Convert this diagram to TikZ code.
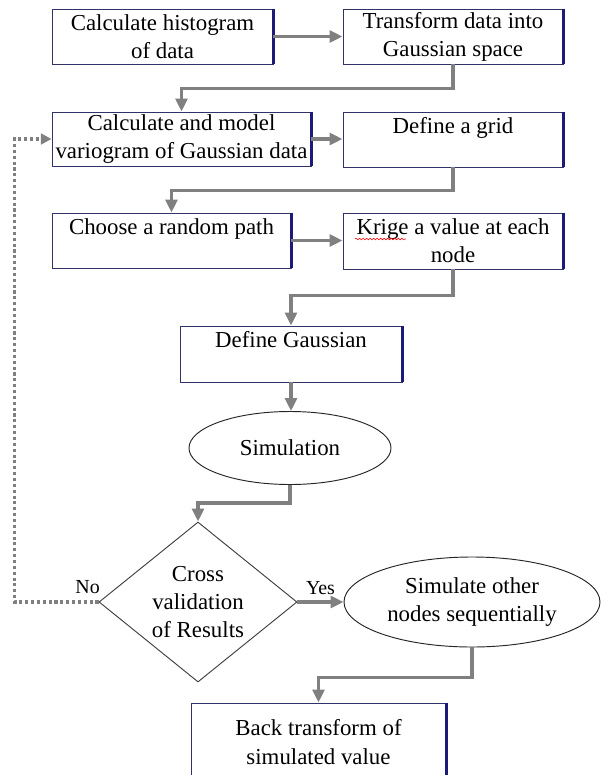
\documentclass[tikz,border=0pt]{standalone}
\usepackage{fontspec}
\setmainfont{Liberation Serif}
\usepackage{xcolor}
\usepackage{tikz}
\usetikzlibrary{shapes.geometric,arrows.meta,decorations.pathmorphing}
\definecolor{boxline}{RGB}{50,50,105}
\definecolor{boxedge}{RGB}{28,28,120}
\definecolor{flowgray}{RGB}{128,128,128}
\newcommand\flowfont{\fontsize{19.5}{24}\selectfont}
\newcommand\lblfont{\fontsize{17}{19}\selectfont}
\tikzset{FLbox/.style={draw=boxline,line width=.8pt,fill=white,inner sep=0pt,align=center,font=\flowfont,minimum height=1.65cm},
	FLoval/.style={ellipse,draw=black!85,line width=.8pt,inner sep=0pt,align=center,font=\flowfont},
	FLdec/.style={diamond,draw=black!75,line width=.8pt,inner sep=0pt},
	FLedge/.style={draw=boxedge,line width=2pt},
	FLarrow/.style={draw=flowgray,line width=2.8pt,-{Triangle[length=11pt,width=10pt]}},
	FLback/.style={draw=flowgray,line width=2.6pt,dash pattern=on 2.6pt off 2.4pt,-{Triangle[length=9pt,width=9pt]}},
	FLwave/.style={draw=red,line width=.5pt,decorate,decoration={snake,amplitude=.7pt,segment length=3pt}}}

\begin{document}
\begin{tikzpicture}[x=.03cm,y=-.03cm]
	\path[use as bounding box,fill=white] (0,0) rectangle (601,775);
	%
	\node[FLbox,minimum width=6.63cm] (hist) at (162.5,36.5) {Calculate histogram\\of data};
	\node[FLbox,minimum width=6.6cm] (trans) at (453,36.5) {Transform data into\\Gaussian space};
	\node[FLbox,minimum width=7.77cm,minimum height=1.62cm] (vario) at (181.5,139) {Calculate and model\\variogram of Gaussian data};
	\node[FLbox,minimum width=6.6cm] (grid) at (453,139.5) {Define a grid\\\mbox{}};
	\node[FLbox,minimum width=7.17cm] (path) at (171.5,240.5) {Choose a random path\\\mbox{}};
	\node[FLbox,minimum width=6.6cm,minimum height=1.68cm] (krige) at (453,241) {Krige a value at each\\node};
	\node[FLbox,minimum width=6.66cm,minimum height=1.68cm] (gauss) at (291,354) {Define Gaussian\\\mbox{}};
	\node[FLoval,minimum width=6.06cm,minimum height=2.19cm] (sim) at (290,448) {Simulation};
	\node[FLdec,minimum width=5.94cm,minimum height=4.8cm,
		label={[align=center,font=\flowfont]center:Cross\\validation\\of Results}] (cross) at (198,602) {};
	\node[FLoval,minimum width=7.68cm,minimum height=2.7cm] (other) at (472,602) {Simulate other\\nodes sequentially};
	\node[FLbox,minimum width=7.65cm,minimum height=2.34cm,font=\fontsize{19.5}{25.5}\selectfont] (back) at (318.5,742) {Back transform of\\simulated value};
	%
	\foreach \n in {hist,trans,vario,grid,path,krige,gauss,back}
		\draw[FLedge] (\n.north east) -- (\n.south east);
	% spelling mark under Krige
	\draw[FLwave] (355,239) -- (406,239);
	%
	\draw[FLarrow] (hist.east) -- (hist.east -| trans.west);
	\draw[FLarrow] (trans.south) -- ++(0,24) -| (vario.north);
	\draw[FLarrow] (vario.east) -- (vario.east -| grid.west);
	\draw[FLarrow] (grid.south) -- ++(0,23) -| (path.north);
	\draw[FLarrow] (path.east) -- (path.east -| krige.west);
	\draw[FLarrow] (krige.south) -- ++(0,26) -| (gauss.north);
	\draw[FLarrow] (gauss.south) -- (gauss.south |- sim.north);
	\draw[FLarrow] (sim.south) -- ++(0,18) -| (cross.north);
	\draw[FLarrow] (cross.east) -- node[above=4pt,inner sep=1pt,font=\lblfont]{Yes} (other.west);
	\draw[FLarrow] (other.south) -- ++(0,30) -| (back.north);
	\draw[FLback] (cross.west) -- node[pos=.13,above=5pt,inner sep=1pt,font=\lblfont]{No} ++(-84,0) |- (vario.west);
\end{tikzpicture}
\end{document}
